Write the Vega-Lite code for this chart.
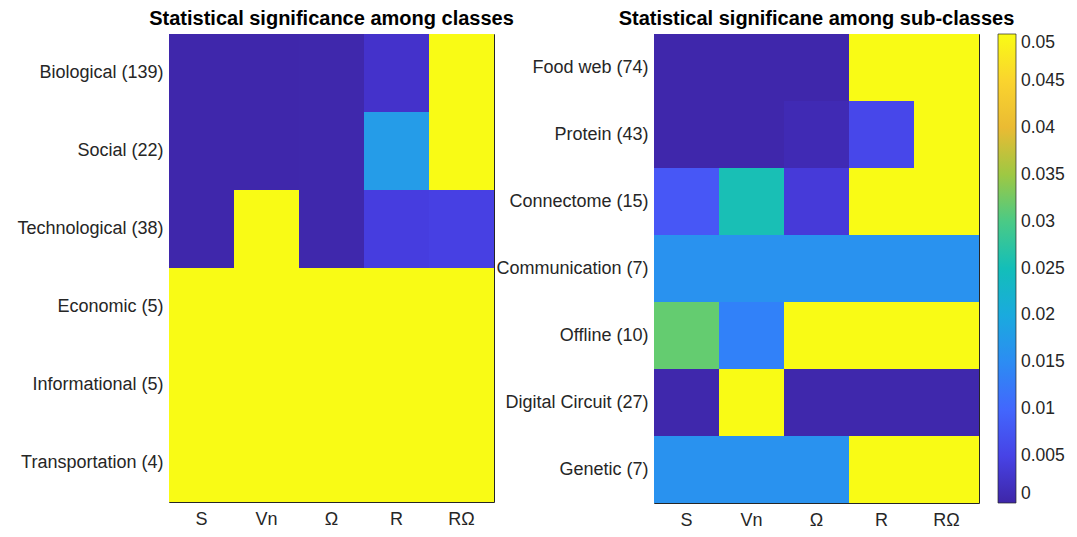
{
  "$schema": "https://vega.github.io/schema/vega-lite/v6.json",
  "background": "white",
  "padding": {"left": 16, "top": 8, "right": 5, "bottom": 5},
  "config": {
    "font": "Liberation Sans",
    "view": {"stroke": "#262626", "strokeWidth": 1},
    "axis": {"labelFontSize": 18, "labelColor": "#262626", "domain": false, "ticks": false, "grid": false, "title": null},
    "title": {"fontSize": 20, "fontWeight": "bold", "color": "#000000", "offset": 5, "frame": "group", "anchor": "middle"},
    "legend": {"labelFontSize": 17.5, "labelColor": "#262626"}
  },
  "datasets": {
    "classes": [
      {"row": "Biological (139)", "col": "S", "p": 0.0002},
      {"row": "Biological (139)", "col": "Vn", "p": 0.0002},
      {"row": "Biological (139)", "col": "Ω", "p": 0.0003},
      {"row": "Biological (139)", "col": "RΩ", "p": 0.05},
      {"row": "Biological (139)", "col": "R", "p": 0.0024},
      {"row": "Social (22)", "col": "S", "p": 0.0002},
      {"row": "Social (22)", "col": "Vn", "p": 0.0002},
      {"row": "Social (22)", "col": "Ω", "p": 0.0003},
      {"row": "Social (22)", "col": "R", "p": 0.0175},
      {"row": "Social (22)", "col": "RΩ", "p": 0.05},
      {"row": "Technological (38)", "col": "S", "p": 0.0002},
      {"row": "Technological (38)", "col": "Vn", "p": 0.05},
      {"row": "Technological (38)", "col": "Ω", "p": 0.0003},
      {"row": "Technological (38)", "col": "R", "p": 0.0042},
      {"row": "Technological (38)", "col": "RΩ", "p": 0.0046},
      {"row": "Economic (5)", "col": "S", "p": 0.05},
      {"row": "Economic (5)", "col": "Vn", "p": 0.05},
      {"row": "Economic (5)", "col": "Ω", "p": 0.05},
      {"row": "Economic (5)", "col": "R", "p": 0.05},
      {"row": "Economic (5)", "col": "RΩ", "p": 0.05},
      {"row": "Informational (5)", "col": "S", "p": 0.05},
      {"row": "Informational (5)", "col": "Vn", "p": 0.05},
      {"row": "Informational (5)", "col": "Ω", "p": 0.05},
      {"row": "Informational (5)", "col": "R", "p": 0.05},
      {"row": "Informational (5)", "col": "RΩ", "p": 0.05},
      {"row": "Transportation (4)", "col": "S", "p": 0.05},
      {"row": "Transportation (4)", "col": "Vn", "p": 0.05},
      {"row": "Transportation (4)", "col": "Ω", "p": 0.05},
      {"row": "Transportation (4)", "col": "R", "p": 0.05},
      {"row": "Transportation (4)", "col": "RΩ", "p": 0.05}
    ],
    "sub": [
      {"row": "Food web (74)", "col": "S", "p": 0.0002},
      {"row": "Food web (74)", "col": "Vn", "p": 0.0002},
      {"row": "Food web (74)", "col": "Ω", "p": 0.0002},
      {"row": "Food web (74)", "col": "R", "p": 0.05},
      {"row": "Food web (74)", "col": "RΩ", "p": 0.05},
      {"row": "Protein (43)", "col": "S", "p": 0.0002},
      {"row": "Protein (43)", "col": "Vn", "p": 0.0002},
      {"row": "Protein (43)", "col": "Ω", "p": 0.0008},
      {"row": "Protein (43)", "col": "R", "p": 0.0056},
      {"row": "Protein (43)", "col": "RΩ", "p": 0.05},
      {"row": "Connectome (15)", "col": "S", "p": 0.0078},
      {"row": "Connectome (15)", "col": "Vn", "p": 0.0254},
      {"row": "Connectome (15)", "col": "Ω", "p": 0.0037},
      {"row": "Connectome (15)", "col": "R", "p": 0.05},
      {"row": "Connectome (15)", "col": "RΩ", "p": 0.05},
      {"row": "Communication (7)", "col": "S", "p": 0.0159},
      {"row": "Communication (7)", "col": "Vn", "p": 0.0159},
      {"row": "Communication (7)", "col": "Ω", "p": 0.0159},
      {"row": "Communication (7)", "col": "R", "p": 0.0159},
      {"row": "Communication (7)", "col": "RΩ", "p": 0.0159},
      {"row": "Offline (10)", "col": "S", "p": 0.0317},
      {"row": "Offline (10)", "col": "Vn", "p": 0.0135},
      {"row": "Offline (10)", "col": "Ω", "p": 0.05},
      {"row": "Offline (10)", "col": "R", "p": 0.05},
      {"row": "Offline (10)", "col": "RΩ", "p": 0.05},
      {"row": "Digital Circuit (27)", "col": "S", "p": 0.0003},
      {"row": "Digital Circuit (27)", "col": "Vn", "p": 0.05},
      {"row": "Digital Circuit (27)", "col": "Ω", "p": 0.0003},
      {"row": "Digital Circuit (27)", "col": "R", "p": 0.0003},
      {"row": "Digital Circuit (27)", "col": "RΩ", "p": 0.0003},
      {"row": "Genetic (7)", "col": "S", "p": 0.0159},
      {"row": "Genetic (7)", "col": "Vn", "p": 0.0159},
      {"row": "Genetic (7)", "col": "Ω", "p": 0.0159},
      {"row": "Genetic (7)", "col": "R", "p": 0.05},
      {"row": "Genetic (7)", "col": "RΩ", "p": 0.05}
    ]
  },
  "bounds": "flush",
  "spacing": 160,
  "hconcat": [
    {
      "title": "Statistical significance among classes",
      "width": 325,
      "height": 468,
      "data": {"name": "classes"},
      "mark": {"type": "rect"},
      "encoding": {
        "x": {"field": "col", "type": "nominal", "sort": ["S", "Vn", "Ω", "R", "RΩ"], "scale": {"paddingInner": 0, "paddingOuter": 0}, "axis": {"labelAngle": 0, "labelPadding": 8}},
        "y": {"field": "row", "type": "nominal", "sort": ["Biological (139)", "Social (22)", "Technological (38)", "Economic (5)", "Informational (5)", "Transportation (4)"], "scale": {"paddingInner": 0, "paddingOuter": 0}, "axis": {"labelPadding": 6}},
        "color": {
          "field": "p", "type": "quantitative",
          "scale": {
            "type": "linear", "clamp": true, "interpolate": "rgb",
            "domain": [0, 0.002381, 0.004762, 0.007143, 0.009524, 0.011905, 0.014286, 0.016667, 0.019048, 0.021429, 0.02381, 0.02619, 0.028571, 0.030952, 0.033333, 0.035714, 0.038095, 0.040476, 0.042857, 0.045238, 0.047619, 0.05],
            "range": ["#3e26a8", "#4432cb", "#4741e5", "#4852f4", "#4563fd", "#3875fe", "#2e87f7", "#2797eb", "#20a5e3", "#12b1d6", "#02bac3", "#24c1ae", "#37c897", "#57cc7a", "#81cc59", "#abc739", "#d1bf27", "#f0ba36", "#fec338", "#fad62d", "#f5e924", "#f9fb15"]
          },
          "legend": null
        }
      }
    },
    {
      "title": "Statistical significane among sub-classes",
      "width": 325,
      "height": 469,
      "data": {"name": "sub"},
      "mark": {"type": "rect"},
      "encoding": {
        "x": {"field": "col", "type": "nominal", "sort": ["S", "Vn", "Ω", "R", "RΩ"], "scale": {"paddingInner": 0, "paddingOuter": 0}, "axis": {"labelAngle": 0, "labelPadding": 8}},
        "y": {"field": "row", "type": "nominal", "sort": ["Food web (74)", "Protein (43)", "Connectome (15)", "Communication (7)", "Offline (10)", "Digital Circuit (27)", "Genetic (7)"], "scale": {"paddingInner": 0, "paddingOuter": 0}, "axis": {"labelPadding": 6}},
        "color": {
          "field": "p", "type": "quantitative",
          "scale": {
            "type": "linear", "clamp": true, "interpolate": "rgb",
            "domain": [0, 0.002381, 0.004762, 0.007143, 0.009524, 0.011905, 0.014286, 0.016667, 0.019048, 0.021429, 0.02381, 0.02619, 0.028571, 0.030952, 0.033333, 0.035714, 0.038095, 0.040476, 0.042857, 0.045238, 0.047619, 0.05],
            "range": ["#3e26a8", "#4432cb", "#4741e5", "#4852f4", "#4563fd", "#3875fe", "#2e87f7", "#2797eb", "#20a5e3", "#12b1d6", "#02bac3", "#24c1ae", "#37c897", "#57cc7a", "#81cc59", "#abc739", "#d1bf27", "#f0ba36", "#fec338", "#fad62d", "#f5e924", "#f9fb15"]
          },
          "legend": {
            "title": null, "orient": "right", "direction": "vertical", "offset": 19,
            "gradientLength": 469, "gradientThickness": 18,
            "gradientStrokeColor": "#262626", "gradientStrokeWidth": 0.7,
            "values": [0, 0.005, 0.01, 0.015, 0.02, 0.025, 0.03, 0.035, 0.04, 0.045, 0.05],
            "format": "~g", "labelOffset": 5
          }
        }
      }
    }
  ],
  "resolve": {"scale": {"color": "independent"}, "legend": {"color": "independent"}}
}
